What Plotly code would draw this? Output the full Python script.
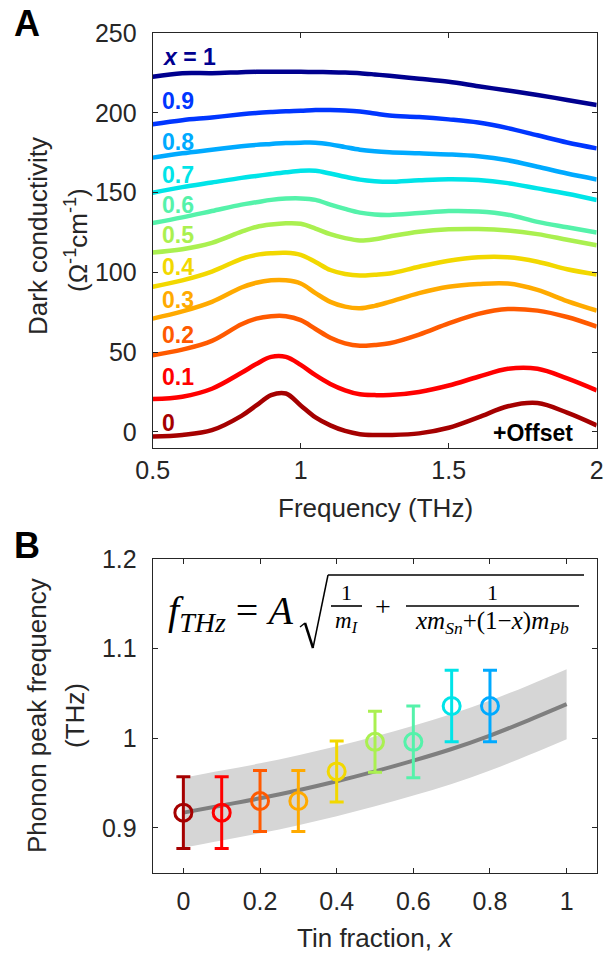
import plotly.graph_objects as go

# ---------------- Panel A data ----------------
freq = [0.5, 0.6, 0.7, 0.8, 0.85, 0.9, 0.95, 1.0, 1.05, 1.1, 1.15, 1.2, 1.25, 1.3, 1.4, 1.5, 1.6, 1.7, 1.8, 1.9, 2.0]
s_00 = [-3, -2, 1, 10, 16.5, 23, 24, 16.5, 9, 4, 0.5, -1.5, -2, -2, -1, 2.5, 9, 16, 18, 12, 4]
s_01 = [20.5, 22, 27, 37, 42.5, 47, 47, 42, 35.5, 30, 26, 23.5, 23, 23, 25, 29, 34.5, 39.5, 39.5, 33.5, 26]
s_02 = [48, 51.5, 57, 67.5, 71, 72.5, 72.5, 70, 64.5, 59, 55.5, 54, 54.5, 55.5, 61, 68, 74, 77, 76, 72, 66]
s_03 = [71, 75.5, 81.5, 90.5, 93.5, 95, 95, 93, 87, 81.5, 78.5, 77.5, 79, 81.5, 87, 91, 92.7, 93, 89, 82, 76]
s_04 = [91, 95, 100.5, 108.5, 111, 112, 112.3, 111, 106.5, 101.5, 99, 98, 98.5, 99.3, 103.5, 107.3, 109.5, 109.5, 106.7, 102, 98.7]
s_05 = [112.5, 114.5, 118.5, 125.5, 128.5, 130, 130.8, 130.5, 127.5, 124, 121.5, 120, 120.8, 122.5, 125.5, 127, 127.2, 126.3, 124, 120.5, 117]
s_06 = [131, 134.5, 138.5, 142.5, 144, 145.5, 146.3, 146.4, 145.5, 142.5, 139.8, 137.5, 136.3, 136, 137.2, 138.5, 138.2, 136.2, 131.7, 128.3, 125]
s_07 = [150, 153.5, 156.4, 159.3, 160.5, 161.7, 162.8, 163.7, 163.7, 162, 160, 158.2, 157.2, 156.8, 157.8, 158.5, 158, 156, 152.7, 149.3, 145.4]
s_08 = [172, 174.7, 176.9, 179.1, 180, 180.6, 181.2, 181.4, 181.4, 180.3, 178.6, 177, 176, 175.4, 174.7, 174, 172.8, 170.3, 166.3, 162, 158.3]
s_09 = [193, 195.5, 197.2, 199.2, 200, 200.6, 201.1, 201.4, 201.8, 201.8, 201.6, 201, 199.7, 198.4, 197.5, 196, 194, 190.5, 186, 181.5, 177.8]
s_10 = [222.7, 225, 225, 225.6, 225.8, 225.8, 225.8, 225.8, 225.7, 225.6, 225.4, 225, 224.2, 223.3, 221.5, 219.6, 216.8, 214.1, 211.3, 208.2, 205]

curve_labels = ["0", "0.1", "0.2", "0.3", "0.4", "0.5", "0.6", "0.7", "0.8", "0.9", "<i>x</i> = 1"]
label_y = [5.6, 34.5, 60.7, 82.6, 103.5, 123.4, 142.2, 161, 181.9, 207.7, 235.3]

colors = ["#A50000", "#FF0000", "#FF5A00", "#FFAA00", "#F2D800", "#AAF050",
          "#55F2AA", "#00E4E8", "#00AAFF", "#0036FF", "#00008F"]

# ---------------- Panel B data ----------------
tin_x = [0, 0.1, 0.2, 0.3, 0.4, 0.5, 0.6, 0.7, 0.8]
peak_f = [0.917, 0.917, 0.930, 0.930, 0.963, 0.996, 0.996, 1.036, 1.036]
peak_err = [0.040, 0.040, 0.034, 0.034, 0.034, 0.034, 0.040, 0.040, 0.040]

fit_x = [0, 0.1, 0.2, 0.3, 0.4, 0.5, 0.6, 0.7, 0.8, 0.9, 1.0]
fit_f = [0.917, 0.925, 0.933, 0.942, 0.952, 0.963, 0.975, 0.988, 1.003, 1.020, 1.038]
band_hi = [0.956, 0.964, 0.972, 0.981, 0.991, 1.002, 1.014, 1.027, 1.042, 1.059, 1.077]
band_lo = [0.878, 0.886, 0.894, 0.903, 0.913, 0.924, 0.936, 0.949, 0.964, 0.981, 0.999]

W, H = 606, 956
def px(x):
    return x / W
def py(y):
    return 1 - y / H

AX = "#262626"
FONT = "Liberation Sans, Arial, sans-serif"
SERIF = "Liberation Serif, Times New Roman, serif"

fig = go.Figure()

series = [s_00, s_01, s_02, s_03, s_04, s_05, s_06, s_07, s_08, s_09, s_10]
for s, c in zip(series, colors):
    fig.add_trace(go.Scatter(x=freq, y=s, mode="lines", line=dict(color=c, width=4.5, shape="spline", smoothing=1.0),
                             xaxis="x", yaxis="y", showlegend=False, hoverinfo="skip"))

# Panel B band + fit
fig.add_trace(go.Scatter(x=fit_x, y=band_lo, mode="lines", line=dict(width=0, shape="spline"),
                         xaxis="x2", yaxis="y2", showlegend=False, hoverinfo="skip"))
fig.add_trace(go.Scatter(x=fit_x, y=band_hi, mode="lines", line=dict(width=0, shape="spline"), fill="tonexty",
                         fillcolor="#D6D6D6", xaxis="x2", yaxis="y2", showlegend=False, hoverinfo="skip"))
fig.add_trace(go.Scatter(x=fit_x, y=fit_f, mode="lines", line=dict(color="#7F7F7F", width=4, shape="spline"),
                         xaxis="x2", yaxis="y2", showlegend=False, hoverinfo="skip"))
for xv, yv, ev, c in zip(tin_x, peak_f, peak_err, colors):
    fig.add_trace(go.Scatter(x=[xv], y=[yv], mode="markers",
                             marker=dict(symbol="circle-open", size=17, color=c, line=dict(width=3, color=c)),
                             error_y=dict(type="data", array=[ev], color=c, thickness=3, width=7),
                             xaxis="x2", yaxis="y2", showlegend=False))

axis_common = dict(showline=True, linecolor=AX, linewidth=1, mirror="ticks", ticks="inside", ticklen=5,
                   tickwidth=1, tickcolor=AX, showgrid=False, zeroline=False, automargin=False,
                   tickfont=dict(family=FONT, size=25, color=AX))

fig.update_layout(
    width=W, height=H, margin=dict(l=0, r=0, t=0, b=0, pad=0, autoexpand=False),
    plot_bgcolor="white", paper_bgcolor="white",
    font=dict(family=FONT, color=AX),
    xaxis=dict(domain=[px(152.7), px(596.7)], anchor="y", range=[0.5, 2],
               tickvals=[0.5, 1, 1.5, 2], ticktext=["0.5", "1", "1.5", "2"], ticklabelstandoff=0, **axis_common),
    yaxis=dict(domain=[py(447.7), py(33.3)], anchor="x", range=[-10, 250],
               tickvals=[0, 50, 100, 150, 200, 250], ticklabelstandoff=10, **axis_common),
    xaxis2=dict(domain=[px(152.7), px(597.3)], anchor="y2", range=[-0.08, 1.08],
                tickvals=[0, 0.2, 0.4, 0.6, 0.8, 1], ticktext=["0", "0.2", "0.4", "0.6", "0.8", "1"],
                ticklabelstandoff=6, **axis_common),
    yaxis2=dict(domain=[py(872.7), py(559)], anchor="x2", range=[0.85, 1.2],
                tickvals=[0.9, 1.0, 1.1, 1.2], ticktext=["0.9", "1", "1.1", "1.2"], ticklabelstandoff=10,
                **axis_common),
)

ann = []
for t, yv, c in zip(curve_labels, label_y, colors):
    ann.append(dict(x=0.523, y=yv, xref="x", yref="y", text="<b>" + t + "</b>", showarrow=False,
                    xanchor="left", yanchor="middle", font=dict(family=FONT, size=23, color=c)))
ann.append(dict(x=1.925, y=-0.5, xref="x", yref="y", text="<b>+Offset</b>", showarrow=False,
                xanchor="right", yanchor="middle", font=dict(family=FONT, size=23, color="black")))

def pann(x, y, text, size, family=FONT, angle=0, xanchor="center", color=AX):
    ann.append(dict(x=px(x), y=py(y), xref="paper", yref="paper", text=text, showarrow=False,
                    xanchor=xanchor, yanchor="middle", textangle=angle,
                    font=dict(family=family, size=size, color=color)))

pann(27, 24, "<b>A</b>", 36, color="black")
pann(27, 545, "<b>B</b>", 36, color="black")
pann(38, 236, "Dark conductivity", 26, angle=-90)
pann(76, 240, "(Ω<sup>-1</sup>cm<sup>-1</sup>)", 26, angle=-90)
pann(375, 508, "Frequency (THz)", 26)
pann(37, 716, "Phonon peak frequency", 26, angle=-90)
pann(75, 716, "(THz)", 26, angle=-90)
pann(375, 938, "Tin fraction, <i>x</i>", 26)

# formula
pann(166, 613, "<i>f</i><sub><i>THz</i></sub>&nbsp;=&nbsp;<i>A</i>", 40, family=SERIF, xanchor="left", color="black")
pann(346, 592, "1", 22, family=SERIF, color="black")
pann(346, 622, "<i>m</i><sub><i>I</i></sub>", 23, family=SERIF, color="black")
pann(383, 606, "+", 28, family=SERIF, color="black")
pann(492, 592, "1", 22, family=SERIF, color="black")
pann(492, 622, "<i>xm</i><sub><i>Sn</i></sub>+(1−<i>x</i>)<i>m</i><sub><i>Pb</i></sub>", 25, family=SERIF, color="black")

fig.update_layout(annotations=ann)

shapes = []
def seg(x0, y0, x1, y1, w=1.6):
    shapes.append(dict(type="line", xref="paper", yref="paper", x0=px(x0), y0=py(y0), x1=px(x1), y1=py(y1),
                       line=dict(color="black", width=w)))
seg(331, 606, 362, 606)
seg(406, 606, 579, 606)
seg(300, 627, 305, 623, 1.5)
seg(305, 623, 313, 648, 2.5)
seg(313, 648, 328, 575, 1.5)
seg(328, 575, 584, 575, 1.6)
fig.update_layout(shapes=shapes)

fig.write_html("out.html", config={"displayModeBar": False},
               post_script="document.body.style.margin='0px';document.body.style.padding='0px';")
